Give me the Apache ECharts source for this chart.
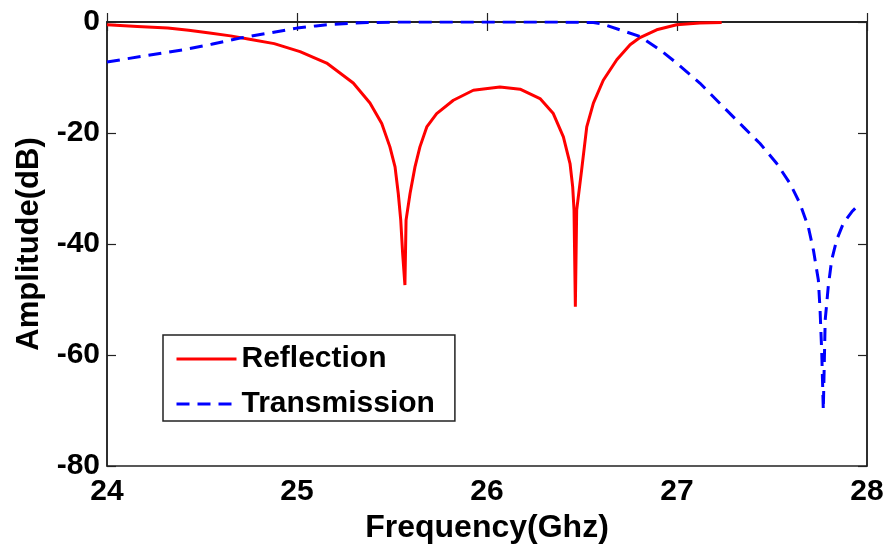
<!DOCTYPE html>
<html>
<head>
<meta charset="utf-8">
<script src="https://cdn.jsdelivr.net/npm/echarts@6/dist/echarts.min.js"></script>
<style>
    html, body { margin: 0; padding: 0; background: #ffffff; }
    #container { width: 888px; height: 549px; }
</style>
</head>
<body>
<div id="container"></div>
<script type="text/javascript">
    // values (GHz, dB)
    var reflFreq = [24.00, 24.16, 24.32, 24.43, 24.54, 24.65, 24.75, 24.88, 25.016, 25.156, 25.296,
        25.384, 25.446, 25.489, 25.516, 25.533, 25.546, 25.556, 25.568,
        25.574, 25.595, 25.621, 25.647, 25.683, 25.735, 25.823, 25.928, 26.068, 26.174, 26.279,
        26.349, 26.402, 26.437, 26.451, 26.458, 26.465,
        26.472, 26.498, 26.525, 26.56, 26.612, 26.683, 26.753, 26.805, 26.893, 26.998, 27.12, 27.235];
    var reflection = [-0.5, -0.8, -1.1, -1.5, -2.0, -2.5, -3.1, -3.9, -5.35, -7.4, -11.0,
        -14.6, -18.3, -22.5, -26.1, -30.9, -35.7, -41.7, -47.4,
        -35.7, -30.9, -26.1, -22.5, -18.9, -16.5, -14.1, -12.3, -11.7, -12.1, -13.8,
        -16.5, -20.7, -25.5, -29.7, -33.9, -51.3,
        -33.9, -26.7, -18.9, -14.6, -10.5, -6.8, -4.1, -2.8, -1.4, -0.5, -0.2, -0.1];

    var transFreq = [24.00, 24.20, 24.40, 24.55, 24.70, 24.85, 25.00, 25.10, 25.19, 25.37, 25.54,
        25.81, 26.07, 26.33, 26.56, 26.61, 26.805, 26.91, 26.998, 27.12, 27.244, 27.349, 27.437,
        27.525, 27.595, 27.647, 27.691, 27.718, 27.744, 27.753, 27.762, 27.77,
        27.78, 27.796, 27.814, 27.84, 27.875, 27.92, 27.963];
    var transmission = [-7.2, -6.1, -5.0, -4.0, -2.9, -2.0, -1.1, -0.7, -0.4, -0.1, 0,
        0, 0, 0, -0.1, -0.4, -2.6, -5.0, -7.4, -11.0, -15.3, -18.9, -21.9,
        -25.5, -29.1, -32.7, -36.9, -41.1, -46.5, -51.9, -59.7, -69.9,
        -53.7, -47.7, -42.9, -39.3, -36.3, -34.2, -32.7];

    var xTicks = [24, 25, 26, 27, 28];
    var yTicks = [-80, -60, -40, -20, 0];

    function pairs(xs, ys) {
        var out = [];
        for (var i = 0; i < xs.length; i++) {
            out.push([xs[i], ys[i]]);
        }
        return out;
    }

    var font = 'Liberation Sans';
    var dom = document.getElementById("container");
    var myChart = echarts.init(dom, null, {renderer: 'canvas'});
    var option = {
        backgroundColor: '#ffffff',
        animation: false,
        grid: {left: 107, right: 21, top: 22, bottom: 83, show: true, borderColor: '#222', borderWidth: 1.5},
        legend: {
            left: 163, top: 335, orient: 'vertical',
            backgroundColor: '#fff', borderColor: '#222', borderWidth: 1.5, borderRadius: 0,
            padding: [9, 20, 2, 12], itemGap: 15, itemWidth: 60, itemHeight: 16,
            itemStyle: {opacity: 0},
            lineStyle: {width: 3},
            textStyle: {fontFamily: font, fontWeight: 'bold', fontSize: 30, color: '#000'},
            data: ['Reflection', 'Transmission']
        },
        xAxis: [{
            type: 'value', min: xTicks[0], max: xTicks[xTicks.length - 1], interval: 1,
            name: 'Frequency(Ghz)', nameLocation: 'middle', nameGap: 44,
            nameTextStyle: {fontFamily: font, fontWeight: 'bold', fontSize: 32, color: '#000'},
            axisLine: {lineStyle: {color: '#222', width: 1.5}},
            axisTick: {inside: true, length: 9, lineStyle: {color: '#222', width: 1.2}},
            axisLabel: {margin: 11, fontFamily: font, fontWeight: 'bold', fontSize: 30, color: '#000'},
            splitLine: {show: false}
        }, {
            type: 'value', position: 'top', min: xTicks[0], max: xTicks[xTicks.length - 1], interval: 1,
            axisLine: {lineStyle: {color: '#222', width: 1.5}},
            axisTick: {inside: true, length: 9, lineStyle: {color: '#222', width: 1.2}},
            axisLabel: {show: false}, splitLine: {show: false}
        }],
        yAxis: [{
            type: 'value', min: yTicks[0], max: yTicks[yTicks.length - 1], interval: 20,
            name: 'Amplitude(dB)', nameLocation: 'middle', nameGap: 62, nameRotate: 90,
            nameTextStyle: {fontFamily: font, fontWeight: 'bold', fontSize: 31, color: '#000'},
            axisLine: {show: true, lineStyle: {color: '#222', width: 1.5}},
            axisTick: {show: true, inside: true, length: 9, lineStyle: {color: '#222', width: 1.2}},
            axisLabel: {margin: 7, fontFamily: font, fontWeight: 'bold', fontSize: 30, color: '#000'},
            splitLine: {show: false}
        }, {
            type: 'value', position: 'right', min: yTicks[0], max: yTicks[yTicks.length - 1], interval: 20,
            axisLine: {show: true, lineStyle: {color: '#222', width: 1.5}},
            axisTick: {show: true, inside: true, length: 9, lineStyle: {color: '#222', width: 1.2}},
            axisLabel: {show: false}, splitLine: {show: false}
        }],
        series: [{
            name: 'Reflection', type: 'line', symbol: 'none', clip: true,
            lineStyle: {color: '#ff0000', width: 3},
            itemStyle: {color: '#ff0000'},
            data: pairs(reflFreq, reflection)
        }, {
            name: 'Transmission', type: 'line', symbol: 'none', clip: true,
            lineStyle: {color: '#0000ff', width: 3, type: [13, 8]},
            itemStyle: {color: '#0000ff'},
            data: pairs(transFreq, transmission)
        }]
    };
    myChart.setOption(option, true);
</script>
</body>
</html>
